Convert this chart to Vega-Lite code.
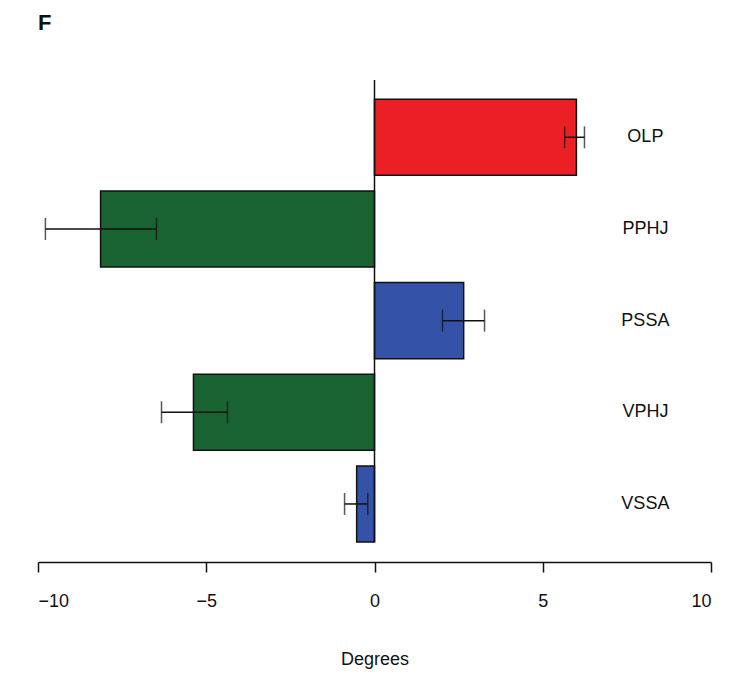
{
  "$schema": "https://vega.github.io/schema/vega-lite/v6.json",
  "width": 673,
  "height": 462,
  "autosize": "none",
  "padding": {"left": 38, "top": 80, "right": 19, "bottom": 133},
  "title": {"text": "F", "anchor": "start", "frame": "group", "fontSize": 22, "fontWeight": "bold", "font": "Liberation Sans", "color": "#111", "offset": 44},
  "data": {
    "values": [
      {"region": "OLP", "deg": 6.0, "lo": 5.65, "hi": 6.24, "grp": "red"},
      {"region": "PPHJ", "deg": -8.14, "lo": -9.78, "hi": -6.48, "grp": "green"},
      {"region": "PSSA", "deg": 2.65, "lo": 2.02, "hi": 3.27, "grp": "blue"},
      {"region": "VPHJ", "deg": -5.38, "lo": -6.33, "hi": -4.37, "grp": "green"},
      {"region": "VSSA", "deg": -0.53, "lo": -0.89, "hi": -0.2, "grp": "blue"}
    ]
  },
  "layer": [
    {
      "layer": [
        {
          "mark": {"type": "bar", "stroke": "#111", "strokeWidth": 1.5},
          "encoding": {
            "x": {"field": "deg", "type": "quantitative",
              "scale": {"domain": [-10, 10], "nice": false},
              "axis": {"title": "Degrees", "values": [-10, -5, 0, 5, 10], "grid": false,
                "domainColor": "#111", "domainWidth": 1.5, "tickColor": "#111", "tickWidth": 1.5, "tickSize": 10,
                "labelFontSize": 18, "labelColor": "#111", "labelPadding": 20, "labelFont": "Liberation Sans",
                "titleFontSize": 18, "titleFontWeight": "normal", "titleColor": "#111", "titlePadding": 40, "titleFont": "Liberation Sans", "offset": 20}},
            "x2": {"datum": 0},
            "color": {"field": "grp", "type": "nominal", "legend": null,
              "scale": {"domain": ["red", "green", "blue"], "range": ["#ec2024", "#1a6332", "#3352a8"]}}
          }
        },
        {
          "mark": {"type": "rule", "color": "#111", "strokeWidth": 1.5},
          "encoding": {"x": {"field": "lo", "type": "quantitative"}, "x2": {"field": "hi"}}
        },
        {
          "mark": {"type": "tick", "color": "#111", "thickness": 1.5, "size": 22},
          "encoding": {"x": {"field": "lo", "type": "quantitative"}}
        },
        {
          "mark": {"type": "tick", "color": "#111", "thickness": 1.5, "size": 22},
          "encoding": {"x": {"field": "hi", "type": "quantitative"}}
        },
        {
          "mark": {"type": "text", "fontSize": 18, "font": "Liberation Sans", "color": "#111", "align": "center"},
          "encoding": {"x": {"datum": 8.05}, "text": {"field": "region"}}
        }
      ],
      "encoding": {
        "y": {"field": "region", "type": "nominal", "sort": null, "axis": null,
          "scale": {"paddingInner": 0.17, "paddingOuter": 0.105, "align": 1}}
      }
    },
    {
      "data": {"values": [{"a": 0}]},
      "mark": {"type": "rule", "color": "#111", "strokeWidth": 1.5},
      "encoding": {"x": {"datum": 0}}
    }
  ],
  "config": {"view": {"stroke": null}, "background": "white"}
}
